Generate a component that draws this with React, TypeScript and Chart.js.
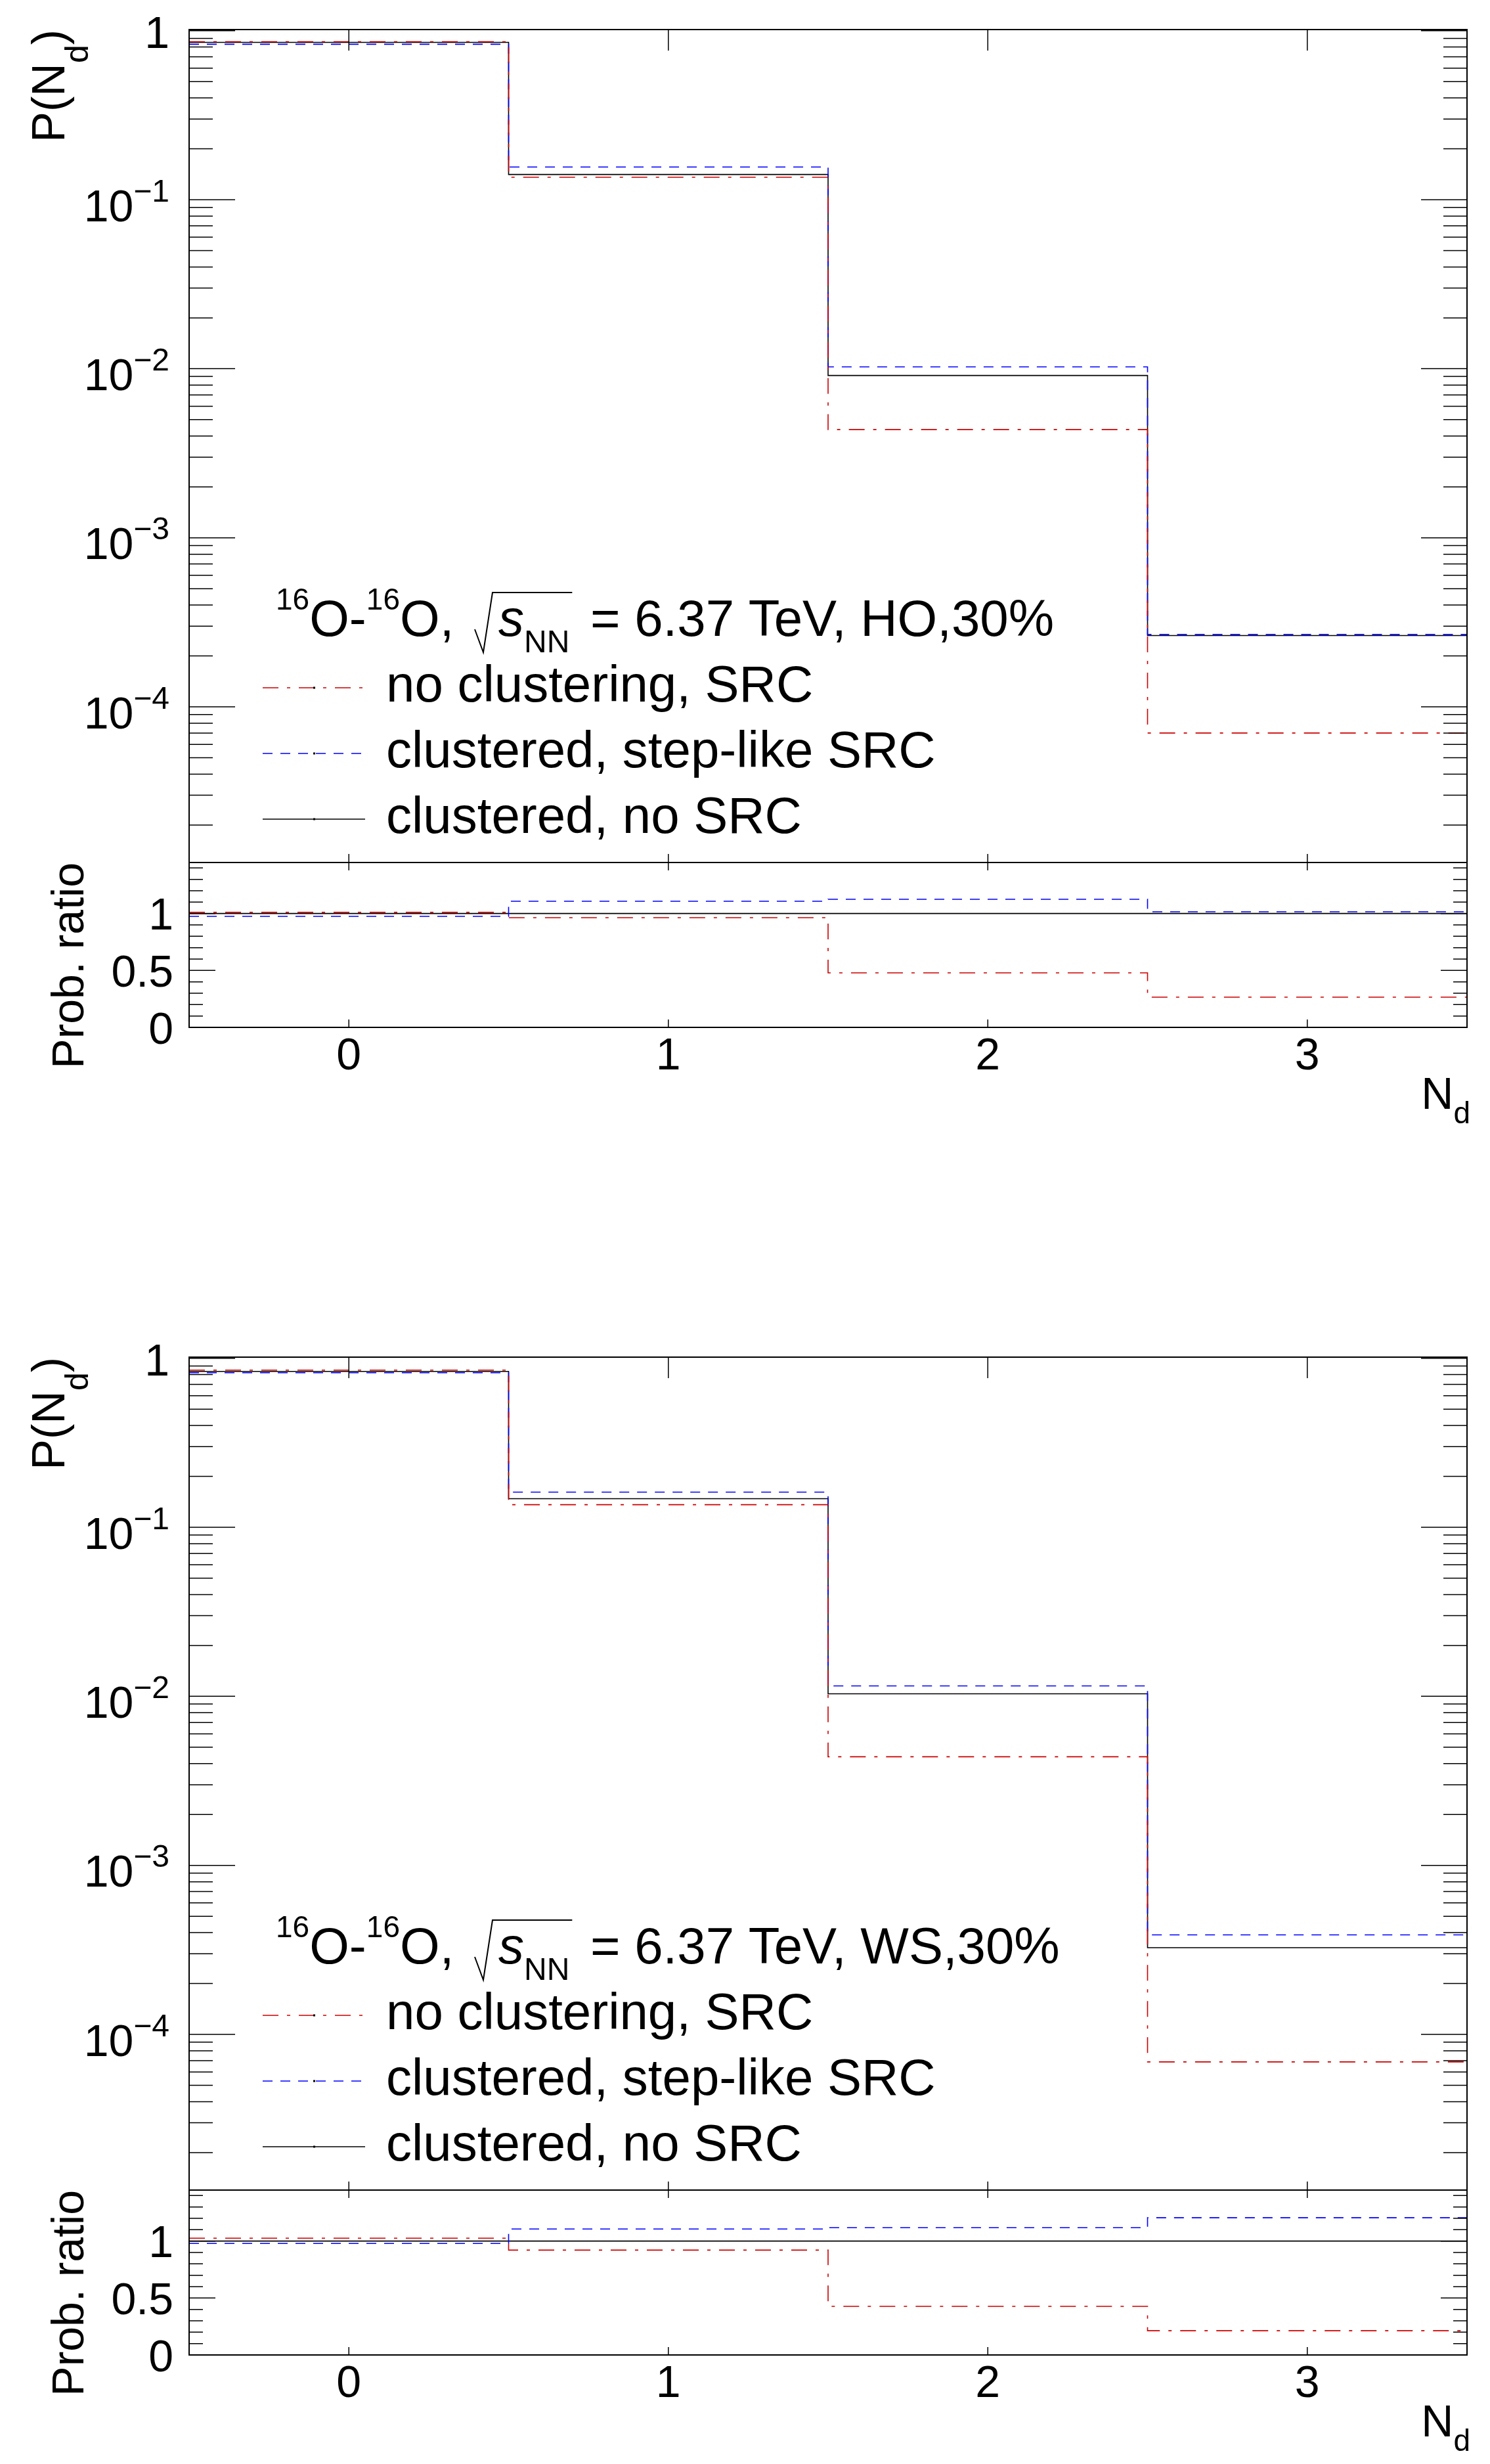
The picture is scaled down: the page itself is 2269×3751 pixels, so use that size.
import React, { useEffect, useRef } from "react";
import { Chart, registerables } from "chart.js";

Chart.register(...registerables);

// ---- data -------------------------------------------------------------
const nd = [0, 1, 2, 3];
const binEdges = [-0.5, 0.5, 1.5, 2.5, 3.5];

const seriesLabels = ["no clustering, SRC", "clustered, step-like SRC", "clustered, no SRC"];

// HO density profile, 30% centrality
const hoNoClusterSRC = [0.86, 0.1358, 0.00437, 7.0e-5];
const hoClusteredStepSRC = [0.831, 0.156, 0.01026, 2.68e-4];
const hoClusteredNoSRC = [0.852, 0.141, 0.00912, 2.64e-4];
const hoRatioNoClusterSRC = [1.01, 0.963, 0.479, 0.265];
const hoRatioClusteredStepSRC = [0.975, 1.108, 1.125, 1.015];
const hoRatioClusteredNoSRC = [1, 1, 1, 1];

// WS density profile, 30% centrality
const wsNoClusterSRC = [0.851, 0.136, 0.00439, 6.88e-5];
const wsClusteredStepSRC = [0.821, 0.1614, 0.01153, 3.88e-4];
const wsClusteredNoSRC = [0.836, 0.1476, 0.01035, 3.26e-4];
const wsRatioNoClusterSRC = [1.025, 0.921, 0.427, 0.213];
const wsRatioClusteredStepSRC = [0.979, 1.106, 1.118, 1.205];
const wsRatioClusteredNoSRC = [1, 1, 1, 1];

const yDecadeExponents = [0, -1, -2, -3, -4];
const ratioTickLabels = ["0", "0.5", "1"];
const ratioTickValues = [0, 0.5, 1];

const panels = [
  {
    tag: "HO,30%",
    main: [hoNoClusterSRC, hoClusteredStepSRC, hoClusteredNoSRC],
    ratio: [hoRatioNoClusterSRC, hoRatioClusteredStepSRC, hoRatioClusteredNoSRC],
  },
  {
    tag: "WS,30%",
    main: [wsNoClusterSRC, wsClusteredStepSRC, wsClusteredNoSRC],
    ratio: [wsRatioNoClusterSRC, wsRatioClusteredStepSRC, wsRatioClusteredNoSRC],
  },
];

// ---- styles & layout ----------------------------------------------------
const seriesColors = ["#cc0000", "#0000ff", "#000000"];
const seriesDash: number[][] = [[24, 13, 5, 13], [15, 12], []];

const W = 2269;
const H = 3751;
const PANEL_OFFSETS = [0, 2021];
const FRAME_LEFT = 288;
const FRAME_RIGHT = 2234;
const FRAME_TOP = 45;
const SPLIT = 1313;
const FRAME_BOTTOM = 1564;
const UPPER_H = 1340;
const RATIO_TOP = 1290;
const RATIO_H = 461;

const FONT = '"Liberation Sans", Arial, Helvetica, sans-serif';

type Seg = { t: string; size: number; dy?: number; italic?: boolean };

function setFont(ctx: CanvasRenderingContext2D, size: number, italic = false) {
  ctx.font = `${italic ? "italic " : ""}${size}px ${FONT}`;
}

function segWidth(ctx: CanvasRenderingContext2D, segs: Seg[]) {
  let w = 0;
  for (const s of segs) {
    setFont(ctx, s.size, s.italic);
    w += ctx.measureText(s.t).width;
  }
  return w;
}

function drawSegs(ctx: CanvasRenderingContext2D, segs: Seg[], x: number, y: number) {
  let cx = x;
  ctx.textAlign = "left";
  ctx.textBaseline = "alphabetic";
  for (const s of segs) {
    setFont(ctx, s.size, s.italic);
    ctx.fillText(s.t, cx, y + (s.dy || 0));
    cx += ctx.measureText(s.t).width;
  }
  return cx;
}

function toSteps(values: number[]) {
  return binEdges.map((e, i) => ({ x: e, y: values[Math.min(i, values.length - 1)] }));
}

function makeDatasets(series: number[][]) {
  return series.map((vals, i) => ({
    label: seriesLabels[i],
    data: toSteps(vals),
    borderColor: seriesColors[i],
    borderWidth: 1.6,
    borderDash: seriesDash[i],
    stepped: "before" as const,
    pointRadius: 0,
    fill: false,
    tension: 0,
  }));
}

function drawFrameAndXTicks(ctx: CanvasRenderingContext2D, chart: any, topLen: number, botLen: number) {
  const { left, right, top, bottom } = chart.chartArea;
  const xs = chart.scales.x;
  ctx.setLineDash([]);
  ctx.strokeStyle = "#000";
  ctx.lineWidth = 2;
  ctx.strokeRect(left, top, right - left, bottom - top);
  ctx.lineWidth = 1.5;
  ctx.beginPath();
  for (const v of nd) {
    const x = xs.getPixelForValue(v);
    ctx.moveTo(x, top);
    ctx.lineTo(x, top + topLen);
    ctx.moveTo(x, bottom);
    ctx.lineTo(x, bottom - botLen);
  }
  ctx.stroke();
}

function upperDecor(tag: string) {
  return {
    id: "upperDecor",
    afterDraw(chart: any) {
      const ctx: CanvasRenderingContext2D = chart.ctx;
      const { left, right, top } = chart.chartArea;
      const ys = chart.scales.y;
      ctx.save();
      drawFrameAndXTicks(ctx, chart, 32, 13);

      // log y ticks, both sides
      ctx.beginPath();
      for (let e = -5; e <= 0; e++) {
        for (let m = 1; m <= 9; m++) {
          const v = m * Math.pow(10, e);
          if (v < ys.min || v > ys.max) continue;
          const y = ys.getPixelForValue(v);
          const len = m === 1 ? 70 : 36;
          ctx.moveTo(left, y);
          ctx.lineTo(left + len, y);
          ctx.moveTo(right, y);
          ctx.lineTo(right - len, y);
        }
      }
      ctx.stroke();

      // y tick labels
      ctx.fillStyle = "#000";
      for (const e of yDecadeExponents) {
        const y = ys.getPixelForValue(Math.pow(10, e));
        const segs: Seg[] =
          e === 0
            ? [{ t: "1", size: 68 }]
            : [
                { t: "10", size: 68 },
                { t: "\u2212" + String(-e), size: 48, dy: -30 },
              ];
        const w = segWidth(ctx, segs);
        drawSegs(ctx, segs, 258 - w, y + (e === 0 ? 26 : 32.5));
      }

      // y title P(N_d), rotated, ending at the top of the frame
      const title: Seg[] = [
        { t: "P(N", size: 70 },
        { t: "d", size: 50, dy: 36 },
        { t: ")", size: 70 },
      ];
      const tw = segWidth(ctx, title);
      ctx.save();
      ctx.translate(98, top);
      ctx.rotate(-Math.PI / 2);
      drawSegs(ctx, title, -tw, 0);
      ctx.restore();

      // legend header
      let cx = drawSegs(
        ctx,
        [
          { t: "16", size: 46, dy: -40 },
          { t: "O-", size: 78 },
          { t: "16", size: 46, dy: -40 },
          { t: "O, ", size: 78 },
        ],
        420,
        968
      );
      const rx = cx;
      cx = drawSegs(
        ctx,
        [
          { t: "s", size: 78, italic: true },
          { t: "NN", size: 48, dy: 25 },
        ],
        rx + 46,
        968
      );
      ctx.lineWidth = 2;
      ctx.beginPath();
      ctx.moveTo(rx + 10, 958);
      ctx.lineTo(rx + 23, 993);
      ctx.lineTo(rx + 37, 902);
      ctx.lineTo(cx + 4, 902);
      ctx.stroke();
      drawSegs(ctx, [{ t: " = 6.37 TeV, " + tag, size: 78 }], cx + 10, 968);

      // legend entries
      const rows = [1047, 1147, 1247];
      rows.forEach((ly, i) => {
        ctx.strokeStyle = seriesColors[i];
        ctx.lineWidth = 1.6;
        ctx.setLineDash(seriesDash[i]);
        ctx.lineDashOffset = 0;
        ctx.beginPath();
        ctx.moveTo(400, ly);
        ctx.lineTo(556, ly);
        ctx.stroke();
        ctx.setLineDash([]);
        ctx.fillStyle = "#000";
        ctx.fillRect(477, ly - 1.5, 3, 3);
        drawSegs(ctx, [{ t: seriesLabels[i], size: 78 }], 588, ly + 21);
      });
      ctx.restore();
    },
  };
}

const ratioDecor = {
  id: "ratioDecor",
  afterDraw(chart: any) {
    const ctx: CanvasRenderingContext2D = chart.ctx;
    const { left, right, top, bottom } = chart.chartArea;
    const xs = chart.scales.x;
    const ys = chart.scales.y;
    ctx.save();
    drawFrameAndXTicks(ctx, chart, 12, 12);

    // linear y ticks every 0.1, majors every 0.5
    ctx.beginPath();
    for (let k = 0; k <= 14; k++) {
      const v = k / 10;
      if (v > ys.max) continue;
      const y = ys.getPixelForValue(v);
      const len = k % 5 === 0 ? 40 : 21;
      ctx.moveTo(left, y);
      ctx.lineTo(left + len, y);
      ctx.moveTo(right, y);
      ctx.lineTo(right - len, y);
    }
    ctx.stroke();

    ctx.fillStyle = "#000";
    ratioTickValues.forEach((v, i) => {
      const y = ys.getPixelForValue(v);
      const segs: Seg[] = [{ t: ratioTickLabels[i], size: 68 }];
      const w = segWidth(ctx, segs);
      drawSegs(ctx, segs, 264 - w, y + 24.5);
    });

    // x tick labels
    for (const v of nd) {
      const x = xs.getPixelForValue(v);
      const segs: Seg[] = [{ t: String(v), size: 68 }];
      const w = segWidth(ctx, segs);
      drawSegs(ctx, segs, x - w / 2, bottom + 64);
    }

    // x title N_d, right aligned at the axis end
    const xt: Seg[] = [
      { t: "N", size: 68 },
      { t: "d", size: 46, dy: 22 },
    ];
    const xw = segWidth(ctx, xt);
    drawSegs(ctx, xt, right + 5 - xw, bottom + 124);

    // y title, rotated, ending at the top of the ratio frame
    const yt: Seg[] = [{ t: "Prob. ratio", size: 68 }];
    const yw = segWidth(ctx, yt);
    ctx.save();
    ctx.translate(127, top);
    ctx.rotate(-Math.PI / 2);
    drawSegs(ctx, yt, -yw, 0);
    ctx.restore();
    ctx.restore();
  },
};

function baseOptions(padTop: number, padBottom: number, yScale: any) {
  return {
    animation: false as const,
    responsive: false,
    maintainAspectRatio: false,
    devicePixelRatio: 1,
    events: [] as any[],
    layout: { padding: { left: FRAME_LEFT, right: W - FRAME_RIGHT, top: padTop, bottom: padBottom } },
    scales: {
      x: { type: "linear" as const, min: -0.5, max: 3.5, display: false },
      y: yScale,
    },
    plugins: { legend: { display: false }, tooltip: { enabled: false }, title: { display: false } },
  };
}

export default function App() {
  const refs = useRef<(HTMLCanvasElement | null)[]>([]);

  useEffect(() => {
    const charts: Chart[] = [];
    panels.forEach((p, i) => {
      const up = refs.current[i * 2];
      const rt = refs.current[i * 2 + 1];
      if (up) {
        charts.push(
          new Chart(up, {
            type: "line",
            data: { datasets: makeDatasets(p.main) as any },
            options: baseOptions(FRAME_TOP, UPPER_H - SPLIT, {
              type: "logarithmic",
              min: 1.2e-5,
              max: 1.015,
              display: false,
            }) as any,
            plugins: [upperDecor(p.tag)],
          })
        );
      }
      if (rt) {
        charts.push(
          new Chart(rt, {
            type: "line",
            data: { datasets: makeDatasets(p.ratio) as any },
            options: baseOptions(SPLIT - RATIO_TOP, RATIO_TOP + RATIO_H - FRAME_BOTTOM, {
              type: "linear",
              min: 0,
              max: 1.448,
              display: false,
            }) as any,
            plugins: [ratioDecor],
          })
        );
      }
    });
    return () => charts.forEach((c) => c.destroy());
  }, []);

  return (
    <div
      style={{
        position: "absolute",
        left: 0,
        top: 0,
        width: W,
        height: H,
        background: "#ffffff",
        overflow: "hidden",
      }}
    >
      {panels.map((p, i) => (
        <React.Fragment key={p.tag}>
          <canvas
            ref={(el) => {
              refs.current[i * 2] = el;
            }}
            width={W}
            height={UPPER_H}
            style={{ position: "absolute", left: 0, top: PANEL_OFFSETS[i], width: W, height: UPPER_H }}
          />
          <canvas
            ref={(el) => {
              refs.current[i * 2 + 1] = el;
            }}
            width={W}
            height={RATIO_H}
            style={{
              position: "absolute",
              left: 0,
              top: PANEL_OFFSETS[i] + RATIO_TOP,
              width: W,
              height: RATIO_H,
            }}
          />
        </React.Fragment>
      ))}
    </div>
  );
}
